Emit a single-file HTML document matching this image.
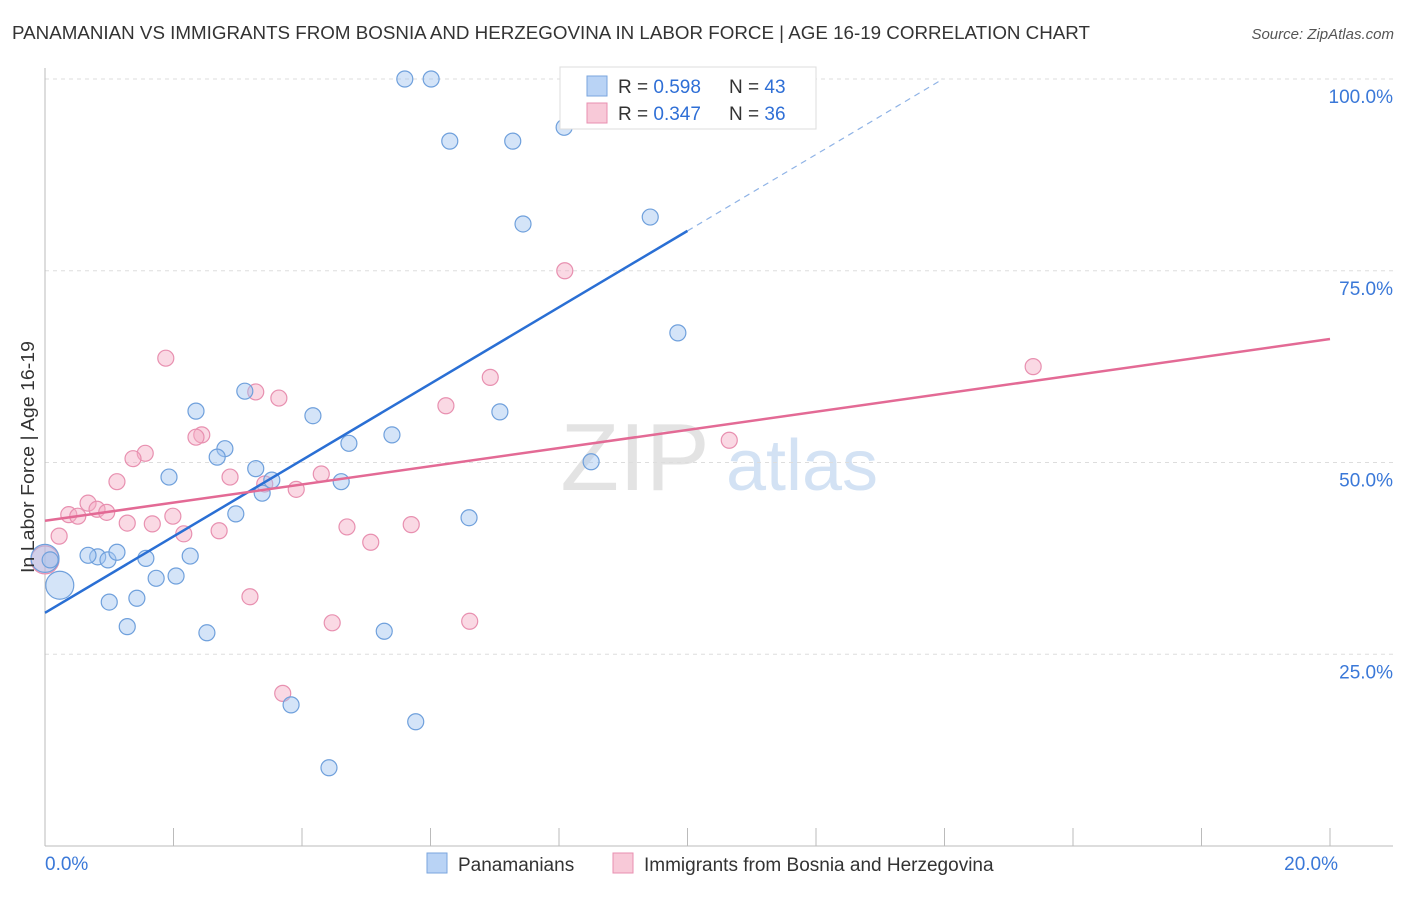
<!DOCTYPE html>
<html><head><meta charset="utf-8"><style>
body{margin:0;background:#fff;font-family:"Liberation Sans",sans-serif}
svg text{font-family:"Liberation Sans",sans-serif}
</style></head><body>
<svg id="chart" width="1406" height="892" viewBox="0 0 1406 892" xmlns="http://www.w3.org/2000/svg">
<text x="12" y="39" font-size="18" fill="#333" textLength="1078" lengthAdjust="spacingAndGlyphs">PANAMANIAN VS IMMIGRANTS FROM BOSNIA AND HERZEGOVINA IN LABOR FORCE | AGE 16-19 CORRELATION CHART</text>
<text x="1394" y="39" font-size="15" fill="#555" text-anchor="end" font-style="italic">Source: ZipAtlas.com</text>
<g>
<text x="635" y="490" font-size="96" fill="#ddd" text-anchor="middle" font-family="Liberation Serif" opacity="0.8">ZIP</text>
<text x="802" y="490" font-size="72" fill="#c9dcf2" text-anchor="middle" opacity="0.8">atlas</text>
</g>
<g id="grid"></g>
<g id="axes"></g>
<g id="marks"></g>
<g>
<rect x="560" y="67" width="256" height="62" fill="#fff" stroke="#ddd"/>
<rect x="587" y="76" width="20" height="20" fill="#b9d3f5" stroke="#7aa6de"/>
<text x="618" y="93" font-size="19" fill="#333">R = <tspan fill="#2f6fd6">0.598</tspan></text>
<text x="729" y="93" font-size="19" fill="#333">N = <tspan fill="#2f6fd6">43</tspan></text>
<rect x="587" y="103" width="20" height="20" fill="#f8c9d8" stroke="#e88fb0"/>
<text x="618" y="120" font-size="19" fill="#333">R = <tspan fill="#2f6fd6">0.347</tspan></text>
<text x="729" y="120" font-size="19" fill="#333">N = <tspan fill="#2f6fd6">36</tspan></text>
</g>
<g>
<rect x="427" y="853" width="20" height="20" fill="#b9d3f5" stroke="#7aa6de"/>
<text x="458" y="871" font-size="19" fill="#333">Panamanians</text>
<rect x="613" y="853" width="20" height="20" fill="#f8c9d8" stroke="#e88fb0"/>
<text x="644" y="871" font-size="19" fill="#333">Immigrants from Bosnia and Herzegovina</text>
</g>
<text transform="translate(34,457) rotate(-90)" font-size="18" fill="#333" text-anchor="middle" textLength="232" lengthAdjust="spacingAndGlyphs">In Labor Force | Age 16-19</text>
</svg>
<script>
const blueX=[5.60,6.01,6.30,7.28,8.08,7.44,9.42,9.85,3.11,2.35,4.17,7.08,5.40,4.73,2.80,2.68,8.50,1.93,3.28,3.53,4.61,3.38,2.97,6.60,0,0.08,0.23,0.82,0.98,1.12,0.67,1.57,2.26,1.73,2.04,1.43,1.00,1.28,2.52,5.28,3.83,5.77,4.42];
const blueY=[100,100,91.9,91.9,93.7,81.1,82.0,66.9,59.3,56.7,56.1,56.6,53.6,52.5,51.8,50.7,50.1,48.1,49.2,47.7,47.5,46.0,43.3,42.8,37.5,37.3,34.0,37.7,37.3,38.3,37.9,37.5,37.8,34.9,35.2,32.3,31.8,28.6,27.8,28.0,18.4,16.2,10.2];
const pinkX=[1.88,8.09,15.38,6.93,3.28,3.64,6.24,2.44,2.35,10.65,1.56,1.37,1.12,2.88,4.30,3.42,3.91,0.67,0.81,0.96,0.37,0.51,1.28,1.67,1.99,2.16,2.71,4.70,5.70,5.07,0.22,0,3.19,4.47,6.61,3.70];
const pinkY=[63.6,75.0,62.5,61.1,59.2,58.4,57.4,53.6,53.3,52.9,51.2,50.5,47.5,48.1,48.5,47.2,46.5,44.7,43.9,43.5,43.2,43.0,42.1,42.0,43.0,40.7,41.1,41.6,41.9,39.6,40.4,37.3,32.5,29.1,29.3,19.9];
const blueTrend=[30.4,4.98];
const pinkTrend=[42.4,1.185];
const yTicks=[25,50,75,100];
const yTickLabels=["25.0%","50.0%","75.0%","100.0%"];
const xTicks=[0,2,4,6,8,10,12,14,16,18,20];
const xEdgeLabels=["0.0%","20.0%"];
const NS="http://www.w3.org/2000/svg";
const X=v=>45+v*64.25, Y=v=>846-v*7.67;
function mk(t,a,p){const e=document.createElementNS(NS,t);for(const k in a)e.setAttribute(k,a[k]);p.appendChild(e);return e;}
const grid=document.getElementById('grid'),axes=document.getElementById('axes'),marks=document.getElementById('marks');
yTicks.forEach((v,i)=>{
 const l=mk('line',{x1:45,x2:1393,y1:Y(v),y2:Y(v),stroke:'#ddd','stroke-dasharray':'4,4'},grid);
 
 
 const t=mk('text',{x:1393,y:Y(v)+24,'font-size':19,fill:'#3a78d8','text-anchor':'end'},axes);
 t.textContent=yTickLabels[i];
 
 
});
const xa=mk('line',{x1:45,x2:1393,y1:846,y2:846,stroke:'#bbb'},axes);


const ya=mk('line',{x1:45,x2:45,y1:68,y2:846,stroke:'#bbb'},axes);


xTicks.forEach(v=>{const l=mk('line',{x1:X(v),x2:X(v),y1:828,y2:846,stroke:'#bbb'},axes);
 
 });
[[0,'start'],[20,'end']].forEach((p,i)=>{const t=mk('text',{x:X(p[0])+(i?8:0),y:870,'font-size':19,fill:'#3a78d8','text-anchor':p[1]},axes);
 t.textContent=xEdgeLabels[i];
 
 });
function pt(x,y,big,blue){const c=mk('circle',{cx:X(x),cy:Y(y),r:big?14:8,fill:blue?'rgba(160,196,240,0.45)':'rgba(245,170,195,0.45)',stroke:blue?'#6fa0dc':'#e890b0','stroke-width':1.2},marks);
 
 }
pinkX.forEach((x,i)=>pt(x,pinkY[i],x===0,false));
blueX.forEach((x,i)=>pt(x,blueY[i],i===26||i===24,true));
const bl=mk('line',{x1:X(0),y1:Y(blueTrend[0]),x2:X(10),y2:Y(blueTrend[0]+10*blueTrend[1]),stroke:'#2a6fd4','stroke-width':2.5},marks);


const xe=(100-blueTrend[0])/blueTrend[1];
const bd=mk('line',{x1:X(10),y1:Y(blueTrend[0]+10*blueTrend[1]),x2:X(xe),y2:Y(100),stroke:'#8fb3e6','stroke-width':1.2,'stroke-dasharray':'6,5'},marks);


const pl=mk('line',{x1:X(0),y1:Y(pinkTrend[0]),x2:X(20),y2:Y(pinkTrend[0]+20*pinkTrend[1]),stroke:'#e36a95','stroke-width':2.5},marks);


</script>
</body></html>
